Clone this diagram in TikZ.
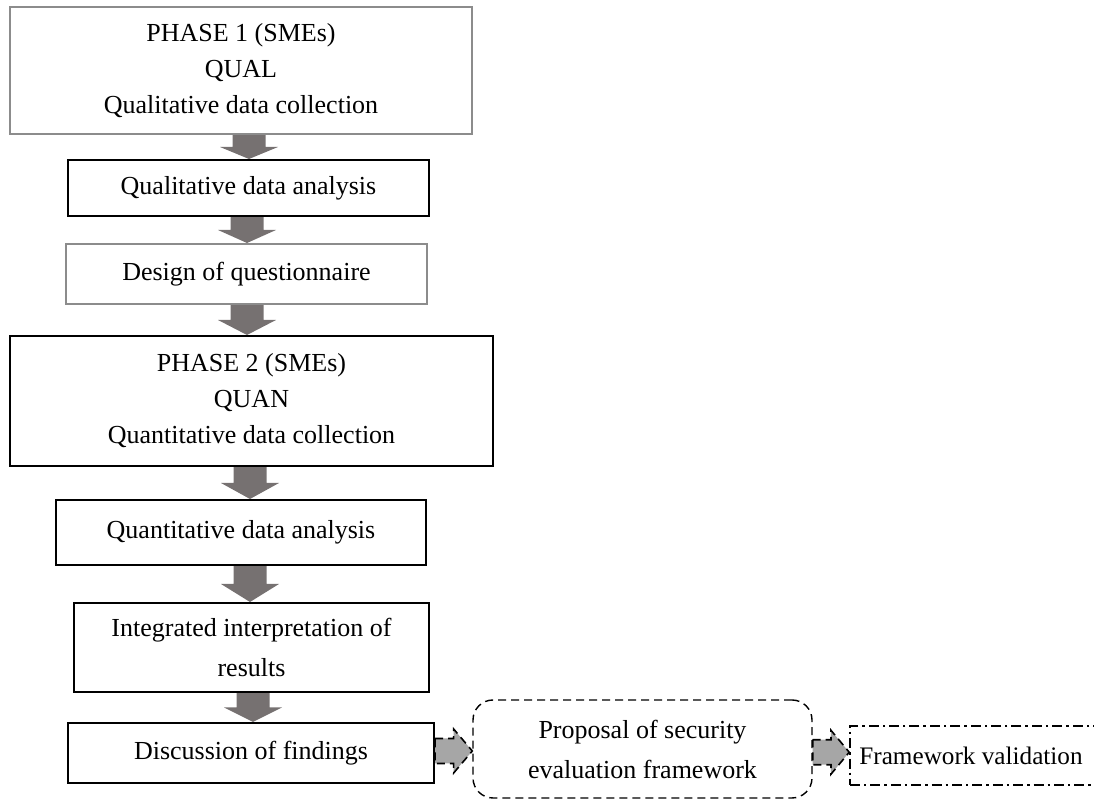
\documentclass[tikz,border=0pt]{standalone}
\usepackage{fontspec}
\setmainfont{Liberation Serif}
\usetikzlibrary{calc,backgrounds}

\definecolor{framegray}{RGB}{140,140,140}
\definecolor{arrowgray}{RGB}{118,113,113}
\definecolor{lightarrow}{RGB}{166,166,166}

\tikzset{
  stage/.style={draw=black, line width=1pt, inner sep=0pt, align=center,
    font=\fontsize{13}{18}\selectfont},
  greystage/.style={stage, draw=framegray},
  twoline/.style={font=\fontsize{13}{20}\selectfont},
  proposal/.style={stage, line width=0.7pt, rounded corners=10pt,
    dash pattern=on 4pt off 2.5pt, twoline},
  validation/.style={stage, line width=0.8pt, align=none,
    font=\fontsize{12.6}{18}\selectfont,
    dash pattern=on 5pt off 2pt on 1.2pt off 2pt},
  size/.style 2 args={minimum width=#1, minimum height=#2},
  blockdown/.style={fill=arrowgray},
  blockright/.style={fill=lightarrow, draw=black, line width=0.8pt,
    dash pattern=on 4pt off 2.5pt, line join=miter},
}

% vertical block arrow: source node, target node, x position (in px units)
\newcommand\flowdown[3]{%
  \fill[blockdown] let \p1=(#1.south), \p2=(#2.north),
      \n1={#3*0.5pt}, \n2={(\y1+\y2)/2} in
    (\n1-8.25pt,\y1) -- (\n1+8.25pt,\y1) -- (\n1+8.25pt,\n2)
    -- (\n1+14.5pt,\n2) -- (\n1,\y2) -- (\n1-14.5pt,\n2)
    -- (\n1-8.25pt,\n2) -- cycle;}

% horizontal dashed block arrow between two nodes
\newcommand\flowright[2]{%
  \draw[blockright] let \p1=(#1.east), \p2=(#2.west),
      \n1={(\x1+\x2)/2}, \n2={(\y1+\y2)/2} in
    (\x1,\n2+6.25pt) -- (\n1,\n2+6.25pt) -- (\n1,\n2+11pt)
    -- (\x2,\n2) -- (\n1,\n2-11pt) -- (\n1,\n2-6.25pt)
    -- (\x1,\n2-6.25pt) -- cycle;}

\begin{document}
\begin{tikzpicture}[x=0.5pt, y=-0.5pt]
  \useasboundingbox (0,0) rectangle (1094,801);
  \clip (0,0) rectangle (1094,801);

  \node[greystage, size={231pt}{63.5pt}] (phase1) at (241,70.5)
    {PHASE 1 (SMEs)\\QUAL\\Qualitative data collection};
  \node[stage, size={180.5pt}{28pt}] (qualan) at (248.5,188)
    {Qualitative data analysis};
  \node[greystage, size={180.5pt}{30pt}] (design) at (246.5,274)
    {Design of questionnaire};
  \node[stage, size={241.5pt}{65pt}] (phase2) at (251.5,401)
    {PHASE 2 (SMEs)\\QUAN\\Quantitative data collection};
  \node[stage, size={185pt}{32.5pt}] (quanan) at (241,532.5)
    {Quantitative data analysis};
  \node[stage, twoline, size={177.5pt}{44.5pt}] (integr) at (251.5,647.5)
    {Integrated interpretation of\\results};
  \node[stage, size={183pt}{30pt}] (discuss) at (251,753)
    {Discussion of findings};
  \node[proposal, size={169.5pt}{49pt}] (propose) at (642.5,749)
    {Proposal of security\\evaluation framework};
  % the box runs on past the right edge of the page
  \node[validation, size={125pt}{29.5pt}] (validate) at (975,755.5)
    {Framework validation\kern4pt};

  \begin{scope}[on background layer]
    \flowdown{phase1}{qualan}{249}
    \flowdown{qualan}{design}{247}
    \flowdown{design}{phase2}{247}
    \flowdown{phase2}{quanan}{250}
    \flowdown{quanan}{integr}{250}
    \flowdown{integr}{discuss}{253}
  \end{scope}

  \flowright{discuss}{propose}
  \flowright{propose}{validate}
\end{tikzpicture}
\end{document}
